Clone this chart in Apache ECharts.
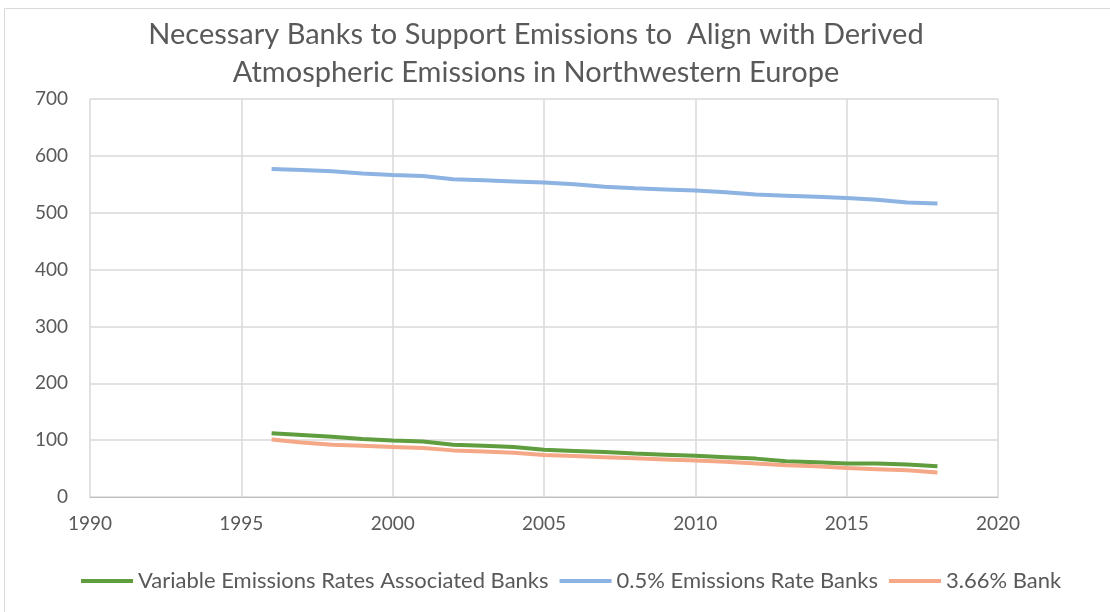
<!DOCTYPE html>
<html><head><meta charset="utf-8">
<script src="https://cdn.jsdelivr.net/npm/echarts@6/dist/echarts.min.js"></script>
<style>html,body{margin:0;padding:0;background:#fff}#c{width:1110px;height:612px}</style>
</head><body><div id="c"></div>
<script>
const years = [1996,1997,1998,1999,2000,2001,2002,2003,2004,2005,2006,2007,2008,2009,2010,2011,2012,2013,2014,2015,2016,2017,2018];
const variableBanks = [112,109,106,102,99.5,97.5,92,90,88,83,81,79,76.5,74.5,72.5,70,67.5,63,61,59,59,57,54];
const rate05Banks = [577,575,573,569,566.5,564.5,559,557,555,553,550,545.5,543,541,539,536,532,530,528,526,523,518,516];
const bank366 = [101,96,92,90,88,86,82,80,78,74,72,70,68,66,64,62,59,56,54,51,49,47,43];
const seriesNames = ['Variable Emissions Rates Associated Banks','0.5% Emissions Rate Banks','3.66% Bank'];
const titleText = 'Necessary Banks to Support Emissions to  Align with Derived\nAtmospheric Emissions in Northwestern Europe';

const font = "Lato,'Open Sans',sans-serif";
const pair = arr => years.map((y,i)=>[y,arr[i]]);
const chart = echarts.init(document.getElementById('c'));
const colors = ['#5f9d3e','#8db3e2','#f4a887'];
chart.setOption({
  animation:false,
  graphic:[{type:'rect',shape:{x:4.5,y:8.5,width:1120,height:620},style:{fill:'none',stroke:'#d9d9d9',lineWidth:1}}],
  title:{text:titleText,left:531,textAlign:'center',top:11,textStyle:{fontFamily:font,fontSize:29,fontWeight:'normal',color:'#595959',lineHeight:38}},
  legend:{bottom:15,left:76,itemWidth:52,itemHeight:4,itemGap:11,icon:'rect',
    textStyle:{fontFamily:font,fontSize:22,color:'#595959'},data:seriesNames},
  grid:{left:90,right:112,top:99,bottom:115},
  xAxis:{type:'value',min:1990,max:2020,interval:5,
    axisLine:{show:true,lineStyle:{color:'#bfbfbf'}},axisTick:{show:false},
    axisLabel:{fontFamily:font,fontSize:19,color:'#595959',margin:17,formatter:v=>String(v)},
    splitLine:{show:true,lineStyle:{color:'#d9d9d9',width:1.5}}},
  yAxis:{type:'value',min:0,max:700,interval:100,
    axisLine:{show:false},axisTick:{show:false},
    axisLabel:{fontFamily:font,fontSize:19,color:'#595959',margin:22},
    splitLine:{show:true,lineStyle:{color:'#d9d9d9',width:1.5}}},
  series:[
    {name:seriesNames[0],type:'line',data:pair(variableBanks),showSymbol:false,lineStyle:{width:4,color:colors[0]},itemStyle:{color:colors[0]}},
    {name:seriesNames[1],type:'line',data:pair(rate05Banks),showSymbol:false,lineStyle:{width:4,color:colors[1]},itemStyle:{color:colors[1]}},
    {name:seriesNames[2],type:'line',data:pair(bank366),showSymbol:false,lineStyle:{width:4,color:colors[2]},itemStyle:{color:colors[2]}}
  ]
});
</script></body></html>
